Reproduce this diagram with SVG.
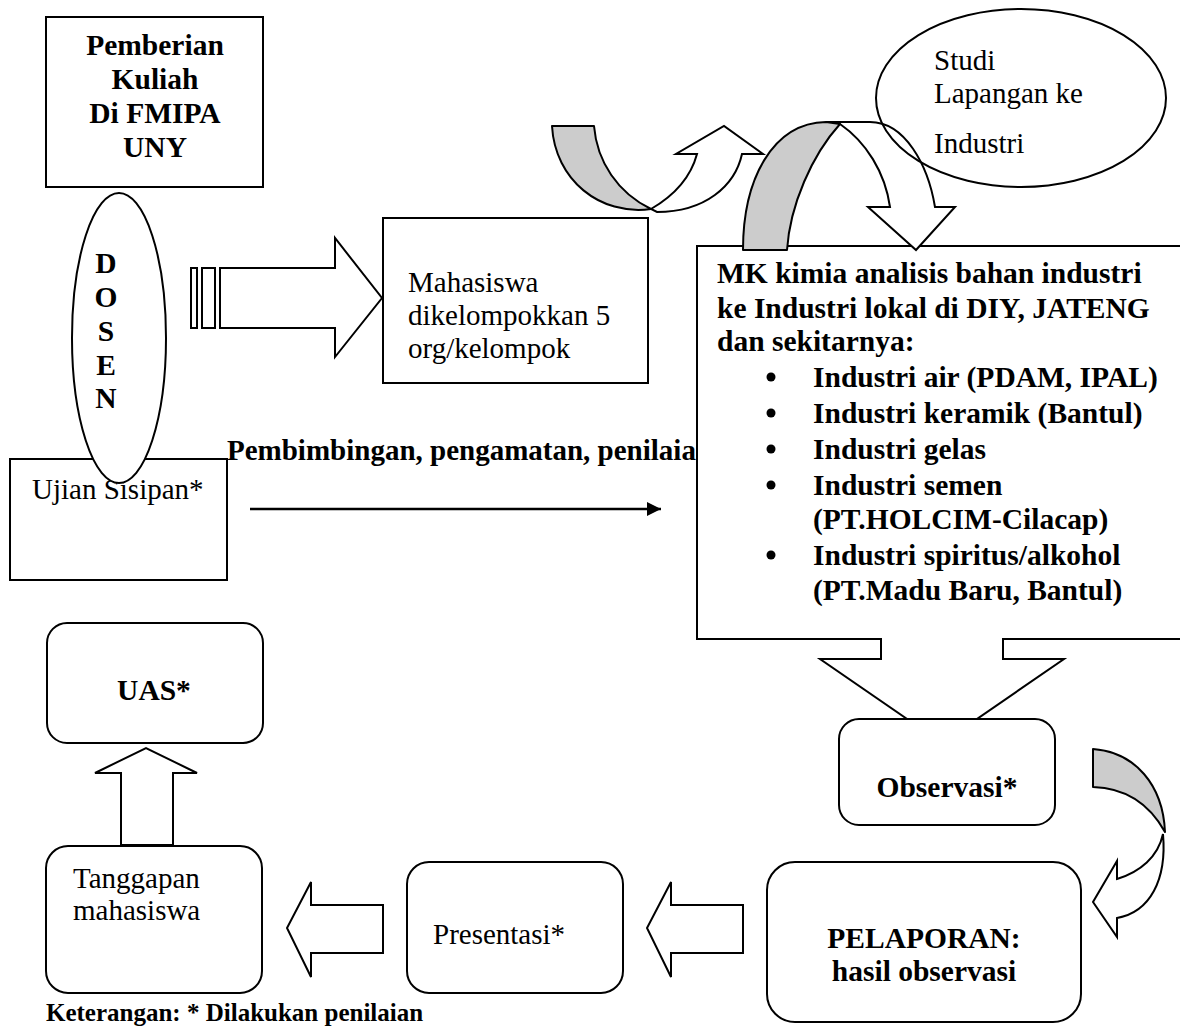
<svg xmlns="http://www.w3.org/2000/svg" width="1180" height="1027" viewBox="0 0 1180 1027">
<defs>
<style>
.box{fill:#fff;stroke:#000;stroke-width:2}
.arr{fill:#fff;stroke:#000;stroke-width:2;stroke-linejoin:miter}
.shade{fill:#cccccc;stroke:#000;stroke-width:2;stroke-linejoin:round}
.t{font-family:"Liberation Serif","Times New Roman",serif;font-size:29px;fill:#000}
.b{font-weight:bold;font-size:29.5px}
.c{text-anchor:middle}
</style>
<marker id="ah" markerUnits="userSpaceOnUse" markerWidth="14" markerHeight="14" refX="14" refY="7" orient="auto"><path d="M0,0 L14,7 L0,14 Z" fill="#000"/></marker>
</defs>
<rect width="1180" height="1027" fill="#fff"/>

<g id="label-pembimbingan"><text class="t b" x="227" y="460" style="font-size:29px">Pembimbingan, pengamatan, penilaia</text></g>

<g id="node-pemberian">
<rect class="box" x="46" y="17" width="217" height="170"/>
<text class="t b c"><tspan x="155" y="55">Pemberian</tspan><tspan x="155" y="89">Kuliah</tspan><tspan x="155" y="123">Di FMIPA</tspan><tspan x="155" y="157">UNY</tspan></text>
</g>

<g id="node-ujian">
<rect class="box" x="10" y="459" width="217" height="121"/>
<text class="t" x="32" y="499">Ujian Sisipan*</text>
</g>

<g id="node-dosen">
<ellipse class="box" cx="119" cy="338" rx="47" ry="145"/>
<text class="t b c"><tspan x="106" y="273">D</tspan><tspan x="106" y="307">O</tspan><tspan x="106" y="341">S</tspan><tspan x="106" y="375">E</tspan><tspan x="106" y="408">N</tspan></text>
</g>

<g id="node-mahasiswa">
<rect class="box" x="383" y="218" width="265" height="165"/>
<text class="t"><tspan x="408" y="292">Mahasiswa</tspan><tspan x="408" y="325">dikelompokkan 5</tspan><tspan x="408" y="358">org/kelompok</tspan></text>
</g>

<g id="node-mk">
<path class="box" d="M697,246 H1186 V639 H1003 V659 H1064 L942,743 L820,659 H881 V639 H697 Z"/>
<text class="t b"><tspan x="717" y="283">MK kimia analisis bahan industri</tspan><tspan x="717" y="318">ke Industri lokal di DIY, JATENG</tspan><tspan x="717" y="351">dan sekitarnya:</tspan></text>
<g fill="#000"><circle cx="771" cy="377" r="4.5"/><circle cx="771" cy="413" r="4.5"/><circle cx="771" cy="449" r="4.5"/><circle cx="771" cy="485" r="4.5"/><circle cx="771" cy="555" r="4.5"/></g>
<text class="t b"><tspan x="813" y="387">Industri air (PDAM, IPAL)</tspan><tspan x="813" y="423">Industri keramik (Bantul)</tspan><tspan x="813" y="459">Industri gelas</tspan><tspan x="813" y="495">Industri semen</tspan><tspan x="813" y="529">(PT.HOLCIM-Cilacap)</tspan><tspan x="813" y="565">Industri spiritus/alkohol</tspan><tspan x="813" y="600">(PT.Madu Baru, Bantul)</tspan></text>
</g>

<g id="node-observasi">
<rect class="box" x="839" y="719" width="216" height="106" rx="20"/>
<text class="t b c" x="947" y="797">Observasi*</text>
</g>

<g id="node-pelaporan">
<rect class="box" x="767" y="862" width="314" height="160" rx="28"/>
<text class="t b c"><tspan x="924" y="948">PELAPORAN:</tspan><tspan x="924" y="981">hasil observasi</tspan></text>
</g>

<g id="node-presentasi">
<rect class="box" x="407" y="862" width="216" height="131" rx="22"/>
<text class="t" x="433" y="944">Presentasi*</text>
</g>

<g id="node-tanggapan">
<rect class="box" x="46" y="846" width="216" height="147" rx="22"/>
<text class="t"><tspan x="73" y="888">Tanggapan</tspan><tspan x="73" y="920">mahasiswa</tspan></text>
</g>

<g id="node-uas">
<rect class="box" x="47" y="623" width="216" height="120" rx="20"/>
<text class="t b c" x="154" y="700">UAS*</text>
</g>

<g id="connectors">
<line x1="250" y1="509" x2="661" y2="509" stroke="#000" stroke-width="2.5" marker-end="url(#ah)"/>
<g id="striped-arrow">
<rect class="arr" x="191" y="268" width="6" height="60"/>
<rect class="arr" x="202" y="268" width="13" height="60"/>
<polygon class="arr" points="220,268 335,268 335,238 382,298 335,357 335,328 220,328"/>
</g>
<polygon class="arr" points="121,845 121,773 95,773 146,748 197,773 173,773 173,845"/>
<polygon class="arr" points="383,905 311,905 311,882 287,928 311,977 311,953 383,953"/>
<polygon class="arr" points="743,905 671,905 671,882 647,928 671,977 671,953 743,953"/>
<g id="curved-a">
<path class="arr" d="M651,209 C670,198 690,180 697,154 H676 L724,126 L763,154 H742 C735,186 705,212 657,212 Z"/>
<path class="shade" d="M552,126 H594 C597,162 618,193 651,209 C600,216 555,180 552,126 Z"/>
</g>
<g id="curved-b">
<path class="arr" d="M826,122 H870 C905,122 928,165 935,207 H955 L916,250 L868,207 H890 C885,172 866,142 840,124 Z"/>
<path class="shade" d="M743,250 C743,180 772,123 826,122 L840,124 C812,155 790,205 787,250 Z"/>
</g>
<g id="curved-c">
<path class="arr" d="M1163,834 C1167,880 1150,912 1117,918 V937 L1093,902 L1117,861 V879 C1140,872 1158,857 1163,834 Z"/>
<path class="shade" d="M1093,749 C1135,752 1163,785 1165,832 C1150,805 1128,788 1093,787 Z"/>
</g>
</g>

<g id="node-studi">
<ellipse cx="1021" cy="98" rx="145" ry="89" fill="none" stroke="#000" stroke-width="2"/>
<text class="t"><tspan x="934" y="70">Studi</tspan><tspan x="934" y="103">Lapangan ke</tspan><tspan x="934" y="153">Industri</tspan></text>
</g>

<g id="note"><text class="t b" x="46" y="1021" style="font-size:25px">Keterangan: * Dilakukan penilaian</text></g>
</svg>
